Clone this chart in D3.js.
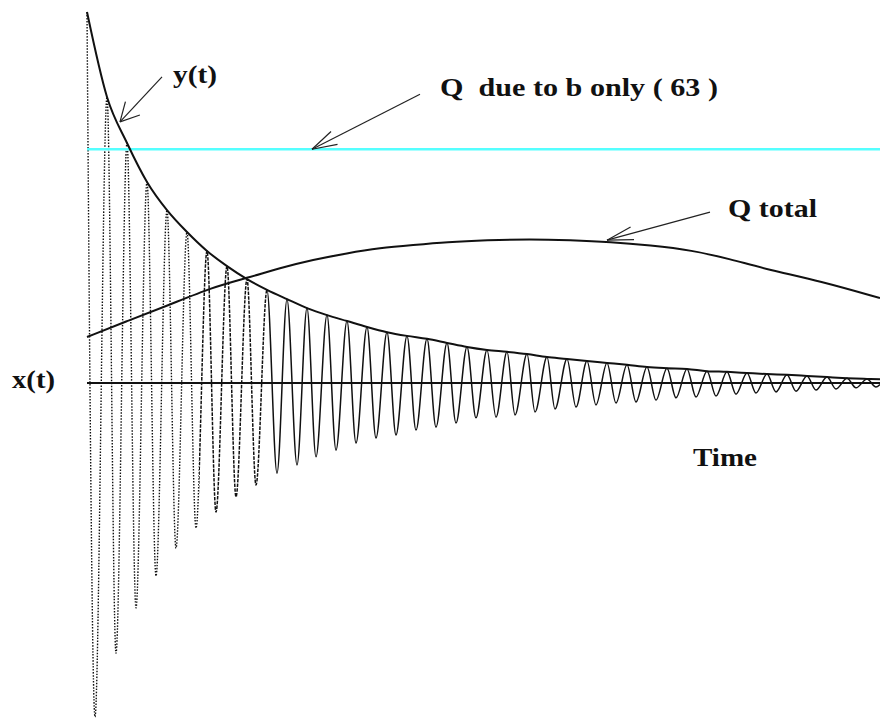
<!DOCTYPE html>
<html>
<head>
<meta charset="utf-8">
<script src="https://cdn.jsdelivr.net/npm/d3@7/dist/d3.min.js"></script>
<style>
  html, body { margin: 0; padding: 0; background: #fff; }
  svg { display: block; }
</style>
</head>
<body>
<svg id="chart" width="880" height="718"></svg>
<script>
// ---- data -------------------------------------------------------------
// x(t): successive maxima of the damped oscillation (time in periods)
const peakTime = [0, 1, 2, 3, 4, 5, 6, 7, 8, 9, 10, 11, 12, 13, 14, 15, 16, 17, 18, 19,
                  20, 21, 22, 23, 24, 25, 26, 27, 28, 29, 30, 31, 32, 33, 34, 35, 36, 37, 38, 39];
const peakValue = [100, 77.1, 64.7, 54.2, 46.6, 40.7, 35.6, 31.5, 28.0, 25.1,
                   22.6, 20.2, 18.3, 16.7, 15.1, 13.7, 12.7, 11.9, 10.8, 9.7,
                   8.9, 8.4, 7.8, 7.0, 6.5, 5.9, 5.4, 4.9, 4.3, 4.0,
                   3.8, 3.2, 3.0, 2.7, 2.4, 2.2, 1.9, 1.6, 1.3, 1.1];
// x(t): successive minima
const troughTime = [0.4, 1.45, 2.45, 3.45, 4.45, 5.45, 6.45, 7.45, 8.45, 9.5,
                    10.5, 11.45, 12.45, 13.45, 14.45, 15.45, 16.45, 17.45, 18.45, 19.45,
                    20.45, 21.4, 22.4, 23.4, 24.45, 25.45, 26.45, 27.45, 28.45, 29.45,
                    30.45, 31.45, 32.45, 33.45, 34.45, 35.45, 36.45, 37.45, 38.45, 39.45];
const troughValue = [-90.0, -72.8, -60.6, -52.0, -44.5, -39.1, -34.8, -30.7, -27.5, -24.3,
                     -22.1, -19.9, -18.1, -16.2, -14.8, -14.0, -12.7, -11.9, -10.8, -9.4,
                     -9.2, -8.6, -7.8, -7.0, -6.5, -5.9, -5.4, -5.1, -4.6, -4.0,
                     -3.8, -3.5, -3.0, -2.7, -2.4, -2.2, -1.9, -1.6, -1.3, -1.1];
// value of x(t) and of the envelope y(t) at the end of the time window
const endTime = 39.65;
const endWaveValue = -0.4;
const endEnvelopeValue = 1.0;

// Q due to b only
const qBOnly = 63;

// Q total
const qTotalTime = [0, 2, 4, 6.3, 8, 9.65, 11.3, 13, 14.65, 16.3, 18, 20, 22.15,
                    24.15, 26.2, 28.15, 30.25, 32.15, 34.1, 36.65, 39.65];
const qTotalValue = [12.4, 16.7, 20.8, 25.9, 28.3, 31.0, 33.2, 35.0, 36.4, 37.2, 38.0,
                     38.5, 38.8, 38.5, 38.0, 37.1, 35.8, 33.4, 30.5, 27.5, 22.9];

// ---- scales -----------------------------------------------------------
const svg = d3.select("#chart");
const x = d3.scaleLinear().domain([0, endTime]).range([87, 880]);
const y = d3.scaleLinear().domain([0, 100]).range([383, 12]);

// build point lists
const wave = [];
peakTime.forEach((t, i) => {
  wave.push([t, peakValue[i]]);
  wave.push([troughTime[i], troughValue[i]]);
});
wave.push([endTime, endWaveValue]);

const envelope = peakTime.map((t, i) => [t, peakValue[i]]);
envelope.push([endTime, endEnvelopeValue]);

const qTotal = qTotalTime.map((t, i) => [t, qTotalValue[i]]);

const line = d3.line()
  .x(d => x(d[0]))
  .y(d => y(d[1]))
  .curve(d3.curveMonotoneX);

// ---- x(t): steep early swings drawn dotted, later ones solid ------------
const defs = svg.append("defs");
const bands = [
  { id: "band-a", from: -1, to: 5.6, dash: "1.5 1.5", w: 1.4 },
  { id: "band-b", from: 5.6, to: 9.0, dash: "3.5 1.2", w: 1.5 },
  { id: "band-c", from: 9.0, to: endTime + 1, dash: null, w: 1.5 }
];
bands.forEach(b => {
  defs.append("clipPath").attr("id", b.id)
    .append("rect")
    .attr("x", x(b.from)).attr("y", 0)
    .attr("width", x(b.to) - x(b.from)).attr("height", 718);
  svg.append("path")
    .datum(wave)
    .attr("clip-path", `url(#${b.id})`)
    .attr("d", line)
    .attr("fill", "none")
    .attr("stroke", "#111")
    .attr("stroke-width", b.w)
    .attr("stroke-dasharray", b.dash);
});

// ---- horizontal time axis -------------------------------------------------
svg.append("line")
  .attr("x1", x(0)).attr("x2", x(endTime))
  .attr("y1", y(0)).attr("y2", y(0))
  .attr("stroke", "#111").attr("stroke-width", 2);

// ---- Q due to b only --------------------------------------------------
svg.append("line")
  .attr("x1", x(0)).attr("x2", x(endTime))
  .attr("y1", y(qBOnly)).attr("y2", y(qBOnly))
  .attr("stroke", "#55ffff").attr("stroke-width", 2.5);

// ---- envelope y(t) and Q total ----------------------------------------
svg.append("path").datum(envelope)
  .attr("d", line)
  .attr("fill", "none").attr("stroke", "#111").attr("stroke-width", 2);

svg.append("path").datum(qTotal)
  .attr("d", d3.line().x(d => x(d[0])).y(d => y(d[1])).curve(d3.curveBasis))
  .attr("fill", "none").attr("stroke", "#111").attr("stroke-width", 2);

// ---- annotation arrows --------------------------------------------------
function arrow(tipT, tipV, dx, dy, spread, barb) {
  const tx = x(tipT), ty = y(tipV);
  const g = svg.append("g").attr("stroke", "#222").attr("stroke-width", 1.2).attr("fill", "none");
  g.append("line").attr("x1", tx + dx).attr("y1", ty + dy).attr("x2", tx).attr("y2", ty);
  const ang = Math.atan2(dy, dx);
  [-spread, spread].forEach(s => {
    const a = ang + s * Math.PI / 180;
    g.append("line")
      .attr("x1", tx).attr("y1", ty)
      .attr("x2", tx + barb * Math.cos(a)).attr("y2", ty + barb * Math.sin(a));
  });
}
arrow(1.65, 70.4, 42, -45, 28, 21);
arrow(11.25, qBOnly, 108, -55, 16, 26);
arrow(26, 38.5, 103, -28, 14, 27);

// ---- labels -----------------------------------------------------------
const labels = [
  { text: "y(t)", t: 4.3, v: 80.9, w: 44 },
  { text: "Q  due to b only ( 63 )", t: 17.65, v: 77.4, w: 278 },
  { text: "Q total", t: 32.05, v: 44.7, w: 89 },
  { text: "x(t)", t: -3.75, v: -1.35, w: 43 },
  { text: "Time", t: 30.3, v: -22.4, w: 64 }
];
svg.append("g").selectAll("text").data(labels).join("text")
  .attr("x", d => x(d.t))
  .attr("y", d => y(d.v))
  .attr("textLength", d => d.w)
  .attr("lengthAdjust", "spacingAndGlyphs")
  .style("white-space", "pre")
  .attr("font-family", "'Liberation Serif', 'Times New Roman', serif")
  .attr("font-weight", "bold")
  .attr("font-size", 26)
  .attr("fill", "#111")
  .text(d => d.text);
</script>
</body>
</html>
